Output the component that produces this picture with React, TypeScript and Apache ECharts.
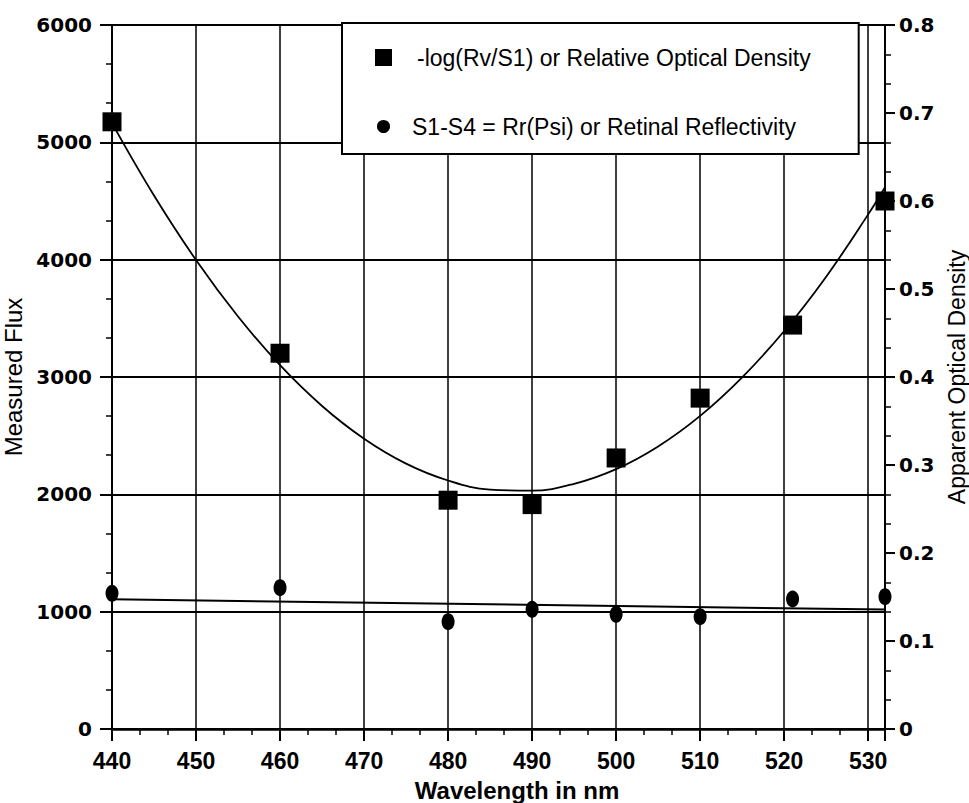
import React, { useEffect, useRef } from "react";
import * as echarts from "echarts";

// Data
const odWavelengths = [440, 460, 480, 490, 500, 510, 521, 532];
const opticalDensity = [0.69, 0.427, 0.26, 0.255, 0.308, 0.376, 0.459, 0.6];

const fluxWavelengths = [440, 460, 480, 490, 500, 510, 521, 532];
const retinalFlux = [1156, 1204, 915, 1020, 977, 957, 1108, 1128];

// fitted curve through the optical density points
const odFitWavelengths = [440, 445, 450, 455, 460, 465, 470, 475, 480, 485, 490, 495, 500, 505, 510, 515, 520, 525, 530, 532];
const odFitValues = [0.6885, 0.6062, 0.5329, 0.4687, 0.4134, 0.3671, 0.3299, 0.3016, 0.2824, 0.2721, 0.2709, 0.2786, 0.2953, 0.3211, 0.3558, 0.3996, 0.4523, 0.514, 0.5848, 0.6156];

// fitted straight line through the flux points
const fluxFitWavelengths = [440, 532];
const fluxFitValues = [1105, 1018];

const SQ_NAME = "-log(Rv/S1) or Relative Optical Density";
const CI_NAME = "S1-S4 = Rr(Psi) or Retinal Reflectivity";

const pair = (xs: number[], ys: number[]) => xs.map((x, i) => [x, ys[i]]);

export default function App() {
  const ref = useRef<HTMLDivElement>(null);
  useEffect(() => {
    if (!ref.current) return;
    const chart = echarts.init(ref.current, undefined, { renderer: "svg" });
    const yLabelFont = { fontFamily: "DejaVu Sans", fontWeight: "bold" as const, fontSize: 20, color: "#000" };
    chart.setOption({
      animation: false,
      backgroundColor: "#fff",
      grid: {
        left: 112,
        right: 84,
        top: 25,
        bottom: 74,
        containLabel: false,
        outerBoundsMode: "none",
      },
      legend: {
        left: 342,
        top: 23,
        orient: "vertical",
        backgroundColor: "#fff",
        borderColor: "#000",
        borderWidth: 2,
        borderRadius: 0,
        padding: [23, 48, 16, 31],
        itemGap: 46,
        itemWidth: 17,
        itemHeight: 17,
        textStyle: {
          fontFamily: "Liberation Sans, Arial, sans-serif",
          fontSize: 23,
          color: "#000",
          padding: [0, 0, 0, 20],
        },
        data: [
          { name: SQ_NAME, icon: "rect", itemStyle: { color: "#000", opacity: 1 } },
          {
            name: CI_NAME,
            icon: "circle",
            itemStyle: { color: "#000", opacity: 1, borderColor: "#fff", borderWidth: 4 },
            textStyle: { padding: [0, 0, 0, 15] },
          },
        ],
        selectedMode: false,
      },
      xAxis: {
        type: "value",
        min: 440,
        max: 532,
        interval: 10,
        name: "Wavelength in nm",
        nameLocation: "middle",
        nameGap: 49,
        nameTextStyle: {
          fontFamily: "Liberation Sans, Arial, sans-serif",
          fontWeight: "bold",
          fontSize: 24,
          color: "#000",
          padding: [0, 0, 0, 37],
        },
        axisLine: { show: true, onZero: false, lineStyle: { color: "#000", width: 2.5 } },
        axisTick: { show: true, length: 12, lineStyle: { color: "#000", width: 2 } },
        minorTick: { show: true, splitNumber: 3, length: 6, lineStyle: { color: "#000", width: 1.5 } },
        axisLabel: {
          margin: 20,
          showMaxLabel: false,
          fontFamily: "Liberation Sans, Arial, sans-serif",
          fontWeight: "bold",
          fontSize: 23,
          color: "#000",
          formatter: (v: number) => String(v),
        },
        splitLine: { show: true, lineStyle: { color: "#000", width: 1.5 } },
      },
      yAxis: [
        {
          type: "value",
          min: 0,
          max: 6000,
          interval: 1000,
          position: "left",
          name: "Measured Flux",
          nameLocation: "middle",
          nameGap: 70,
          nameTextStyle: { fontFamily: "Liberation Sans, Arial, sans-serif", fontSize: 24, color: "#000" },
          axisLine: { show: true, onZero: false, lineStyle: { color: "#000", width: 2 } },
          axisTick: { show: true, length: 12, lineStyle: { color: "#000", width: 2 } },
          minorTick: { show: true, splitNumber: 3, length: 6, lineStyle: { color: "#000", width: 1.5 } },
          axisLabel: { margin: 20, ...yLabelFont, formatter: (v: number) => String(v) },
          splitLine: { show: true, lineStyle: { color: "#000", width: 2 } },
        },
        {
          type: "value",
          min: 0,
          max: 0.8,
          interval: 0.1,
          position: "right",
          name: "Apparent Optical Density",
          nameLocation: "middle",
          nameGap: 56,
          nameTextStyle: { fontFamily: "Liberation Sans, Arial, sans-serif", fontSize: 23, color: "#000" },
          axisLine: { show: true, onZero: false, lineStyle: { color: "#000", width: 2 } },
          axisTick: { show: true, length: 10, lineStyle: { color: "#000", width: 2 } },
          minorTick: { show: true, splitNumber: 3, length: 6, lineStyle: { color: "#000", width: 1.5 } },
          axisLabel: {
            margin: 14,
            ...yLabelFont,
            formatter: (v: number) => (v === 0 ? "0" : v.toFixed(1)),
          },
          splitLine: { show: false },
        },
      ],
      series: [
        {
          name: "od-fit",
          type: "line",
          yAxisIndex: 1,
          data: pair(odFitWavelengths, odFitValues),
          smooth: 0.4,
          showSymbol: false,
          symbol: "none",
          lineStyle: { color: "#000", width: 1.8 },
          z: 3,
        },
        {
          name: "flux-fit",
          type: "line",
          yAxisIndex: 0,
          data: pair(fluxFitWavelengths, fluxFitValues),
          showSymbol: false,
          symbol: "none",
          lineStyle: { color: "#000", width: 2 },
          z: 3,
        },
        {
          name: SQ_NAME,
          type: "scatter",
          yAxisIndex: 1,
          data: pair(odWavelengths, opticalDensity),
          symbol: "rect",
          symbolSize: 19,
          itemStyle: { color: "#000", opacity: 1 },
          z: 4,
        },
        {
          name: CI_NAME,
          type: "scatter",
          yAxisIndex: 0,
          data: pair(fluxWavelengths, retinalFlux),
          symbol: "circle",
          symbolSize: [13, 17],
          itemStyle: { color: "#000", opacity: 1 },
          z: 4,
        },
      ],
    });
    return () => chart.dispose();
  }, []);
  return (
    <div
      ref={ref}
      style={{ position: "fixed", left: 0, top: 0, width: 969, height: 803, background: "#fff" }}
    />
  );
}
